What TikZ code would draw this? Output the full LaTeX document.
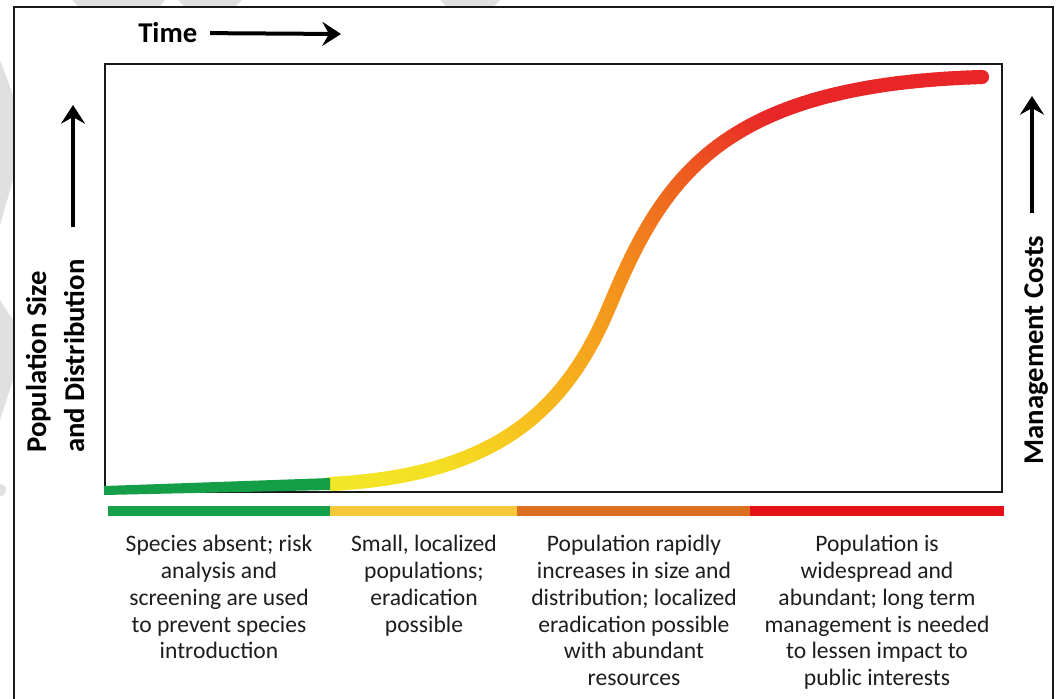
\documentclass[tikz,border=0pt]{standalone}
\usepackage{fontspec}
\setmainfont{Carlito}
\usetikzlibrary{arrows.meta}

\definecolor{framec}{RGB}{25,25,25}
\definecolor{greenC}{RGB}{20,158,72}
\definecolor{cA}{RGB}{242,232,40}
\definecolor{cB}{RGB}{245,222,34}
\definecolor{cC}{RGB}{247,190,30}
\definecolor{cD}{RGB}{243,140,28}
\definecolor{cE}{RGB}{238,90,32}
\definecolor{cF}{RGB}{232,38,40}
\definecolor{bandG}{RGB}{22,160,75}
\definecolor{bandY}{RGB}{245,200,60}
\definecolor{bandO}{RGB}{219,112,32}
\definecolor{bandR}{RGB}{228,18,24}
\definecolor{wmark}{RGB}{224,224,224}
\definecolor{txt}{RGB}{30,30,30}

\tikzset{
  axislabel/.style={font=\bfseries\fontsize{21.5}{28}\selectfont, text=black, inner sep=0pt},
  desc/.style={font=\fontsize{17.7}{20.1}\selectfont, text=txt, align=center, inner sep=0pt},
  axisarrow/.style={line width=3pt, draw=black, -{Stealth[length=14pt,width=18pt,inset=5pt]}},
  bandline/.style={line width=7.5pt},
  frameline/.style={draw=framec, line width=2pt},
  wm/.style={fill=wmark, draw=none},
  curveline/.style={line width=10.6pt, line cap=round},
}

\begin{document}
\begin{tikzpicture}[x=0.75pt,y=-0.75pt]
\clip (0,0) rectangle (1057,699);
\fill[white] (0,0) rectangle (1057,699);

% watermark remnants
\fill[wm] (72,0) -- (165,0) -- (160,6) -- (78,6) -- cycle;
\fill[wm] (178,0) -- (242,0) -- (236,6) -- (184,6) -- cycle;
\fill[wm] (440,0) -- (500,0) -- (494,6) -- (446,6) -- cycle;
\fill[wm] (0,60) -- (13,95) -- (13,180) -- (0,225) -- cycle;
\fill[wm] (0,300) -- (13,320) -- (13,380) -- (0,420) -- cycle;
\fill[wm] (0,490) circle (6);

% outer frame
\draw[frameline] (14,7) rectangle (1053,740);

% plot frame
\draw[frameline, line width=2.2pt] (105,64) rectangle (1002,492);

% gradient curve, drawn in thin diagonal strips
\foreach \cpos in {-160,-154,...,916} {
  \pgfmathsetmacro\cvt{max(0,min(1,(\cpos+154)/1058))}
  \ifdim\cvt pt<0.12pt
    \pgfmathtruncatemacro\cvp{\cvt/0.12*100}\colorlet{cc}{cB!\cvp!cA}
  \else\ifdim\cvt pt<0.25pt
    \pgfmathtruncatemacro\cvp{(\cvt-0.12)/0.13*100}\colorlet{cc}{cC!\cvp!cB}
  \else\ifdim\cvt pt<0.48pt
    \pgfmathtruncatemacro\cvp{(\cvt-0.25)/0.23*100}\colorlet{cc}{cD!\cvp!cC}
  \else\ifdim\cvt pt<0.63pt
    \pgfmathtruncatemacro\cvp{(\cvt-0.48)/0.15*100}\colorlet{cc}{cE!\cvp!cD}
  \else\ifdim\cvt pt<0.76pt
    \pgfmathtruncatemacro\cvp{(\cvt-0.63)/0.13*100}\colorlet{cc}{cF!\cvp!cE}
  \else
    \colorlet{cc}{cF}
  \fi\fi\fi\fi\fi
  \begin{scope}
    \clip (\cpos-100,-100) -- (\cpos+800,800) -- (\cpos+807,800) -- (\cpos-93,-100) -- cycle;
    \draw[curveline, draw=cc] (330,484) .. controls (500,475.5) and (567.7,406.5) .. (610,305)
      .. controls (663.9,175.8) and (722,84.8) .. (982,77);
  \end{scope}
}

% green start of curve
\fill[greenC] (104,486) -- (330,478) -- (330,490) -- (104,495) -- cycle;

% bottom band
\draw[bandline, bandG] (108,511) -- (331,511);
\draw[bandline, bandY] (330,511) -- (518,511);
\draw[bandline, bandO] (517,511) -- (751,511);
\draw[bandline, bandR] (750,511) -- (1004,511);

% axis labels
\node[axislabel, anchor=base west] (time) at (138,43) {Time};
\coordinate (timeEnd) at (341,34);
\draw[axisarrow, shorten <=9.5pt] (time.east) -- (timeEnd);

\node[axislabel, rotate=90, anchor=base west] (ylab1) at (46,453) {Population Size};
\node[axislabel, rotate=90, anchor=base west] (ylab2) at (84,453) {and Distribution};
\coordinate (la0) at (73,227);
\coordinate (la1) at (73,105);
\draw[axisarrow] (la0) -- (la1);

\node[axislabel, rotate=90, anchor=base] (ylab3) at (1043,350) {Management Costs};
\coordinate (ra0) at (1032,213);
\coordinate (ra1) at (1032,96);
\draw[axisarrow] (ra0) -- (ra1);

% descriptions
\node[desc, anchor=north] (d1) at (219,535) {Species absent; risk\\analysis and\\screening are used\\to prevent species\\introduction};
\node[desc, anchor=north] (d2) at (424,535) {Small, localized\\populations;\\eradication\\possible};
\node[desc, anchor=north] (d3) at (634,535) {Population rapidly\\increases in size and\\distribution; localized\\eradication possible\\with abundant\\resources};
\node[desc, anchor=north] (d4) at (877,535) {Population is\\widespread and\\abundant; long term\\management is needed\\to lessen impact to\\public interests};
\end{tikzpicture}
\end{document}
